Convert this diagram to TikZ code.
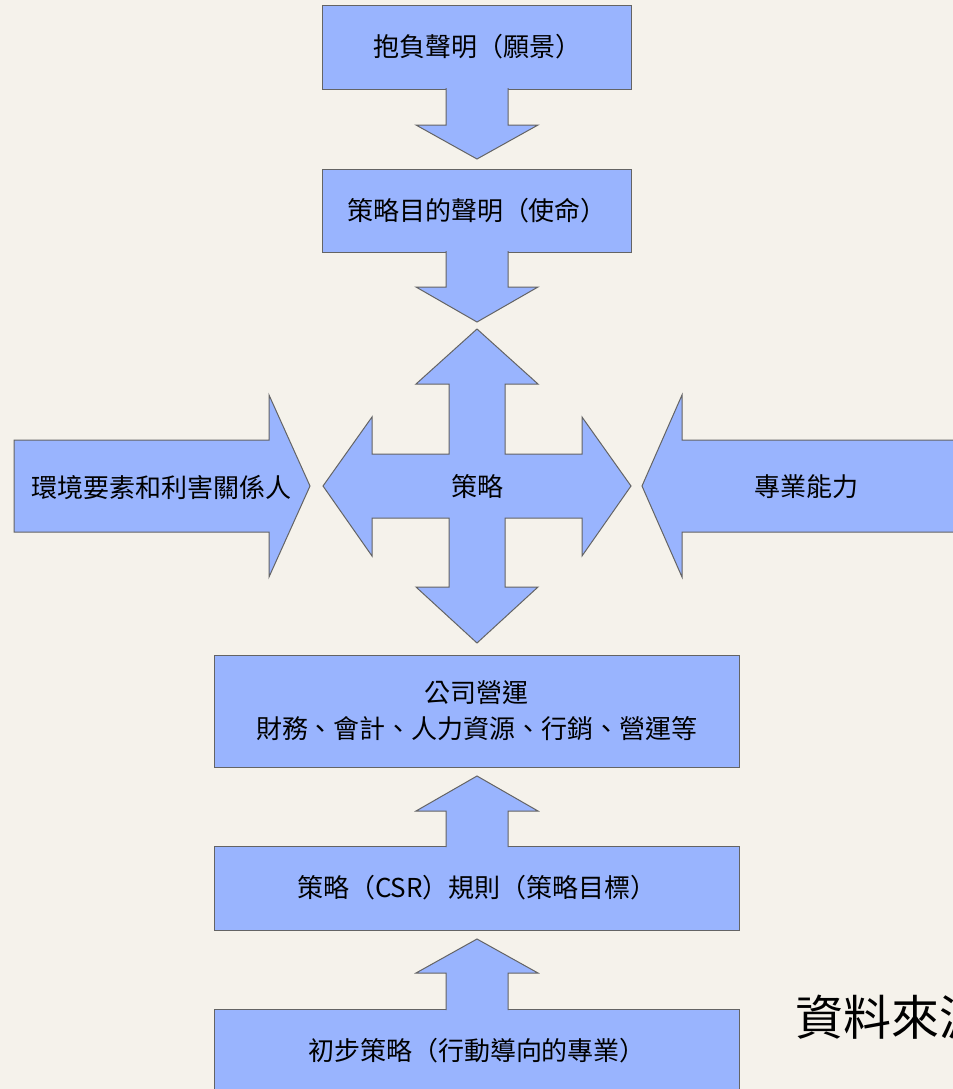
\documentclass[tikz,border=0pt]{standalone}
\usepackage{fontspec}
\setmainfont{Noto Sans CJK TC}
\definecolor{bgpaper}{HTML}{F5F2EB}
\definecolor{blkfill}{HTML}{99B4FE}
\definecolor{blkline}{HTML}{646464}
\begin{document}
\begin{tikzpicture}[x=0.5pt, y=-0.5pt,
    blk/.style={fill=blkfill, draw=blkline, line width=0.5pt, line join=miter},
    txt/.style={font=\fontsize{13pt}{18pt}\selectfont, align=center, inner sep=0pt}]
    \clip (0,0) rectangle (953,1089);
    \fill[bgpaper] (0,0) rectangle (953,1089);

    \coordinate (a01) at (322,   5);
    \coordinate (a02) at (631,  89);
    \coordinate (a03) at (322, 169);
    \coordinate (a04) at (631, 252);
    \coordinate (a05) at (214, 655);
    \coordinate (a06) at (739, 767);
    \coordinate (a07) at (214, 846);
    \coordinate (a08) at (739, 930);
    \coordinate (a09) at (214,1009);
    \coordinate (a10) at (739,1100);

    \coordinate (l01) at (477,  47);
    \coordinate (l02) at (477, 211);
    \coordinate (l03) at (477, 487);
    \coordinate (l04) at (162, 487);
    \coordinate (l05) at (806, 487);
    \coordinate (l06) at (477, 711);
    \coordinate (l07) at (477, 888);
    \coordinate (l08) at (477,1051);
    \coordinate (l09) at (795,1017);

    \draw[blk] (a01) rectangle (a02);
    \draw[blk] (a03) rectangle (a04);
    \draw[blk] (a05) rectangle (a06);
    \draw[blk] (a07) rectangle (a08);
    \draw[blk] (a09) rectangle (a10);

    % down arrows
    \path[blk] (446,88) -- (446,125) -- (416,125) -- (477,159) -- (538,125) -- (508,125) -- (508,88);
    \path[blk] (446,251) -- (446,287) -- (416,287) -- (477,322) -- (538,287) -- (508,287) -- (508,251);
    % up arrows
    \path[blk] (446,847) -- (446,811) -- (416,811) -- (477,776) -- (538,811) -- (508,811) -- (508,847);
    \path[blk] (446,1010) -- (446,973) -- (416,973) -- (477,939) -- (538,973) -- (508,973) -- (508,1010);

    % cross
    \draw[blk] (477,329) -- (538,384) -- (505,384) -- (505,454) -- (582,454) -- (582,417)
        -- (631,486) -- (582,556) -- (582,518) -- (505,518) -- (505,587) -- (538,587)
        -- (477,643) -- (416,587) -- (449,587) -- (449,518) -- (372,518) -- (372,556)
        -- (323,486) -- (372,417) -- (372,454) -- (449,454) -- (449,384) -- (416,384) -- cycle;

    % side arrows
    \draw[blk] (14,440) -- (269,440) -- (269,395) -- (310,486) -- (269,577) -- (269,532) -- (14,532) -- cycle;
    \draw[blk] (965,440) -- (682,440) -- (682,395) -- (642,486) -- (682,577) -- (682,532) -- (965,532) -- cycle;

    \node[txt] (vision) at (l01) {抱負聲明（願景）};
    \node[txt] (mission) at (l02) {策略目的聲明（使命）};
    \node[txt] (strategy) at (l03) {策略};
    \node[txt] (env) at (l04) {環境要素和利害關係人};
    \node[txt] (skill) at (l05) {專業能力};
    \node[txt] (ops) at (l06) {公司營運\\財務、會計、人力資源、行銷、營運等};
    \node[txt] (rules) at (l07) {策略（CSR）規則（策略目標）};
    \node[txt] (prelim) at (l08) {初步策略（行動導向的專業）};
    \node[anchor=west, inner sep=0pt, font=\fontsize{24pt}{28pt}\selectfont] (source) at (l09) {資料來源};

\end{tikzpicture}
\end{document}
